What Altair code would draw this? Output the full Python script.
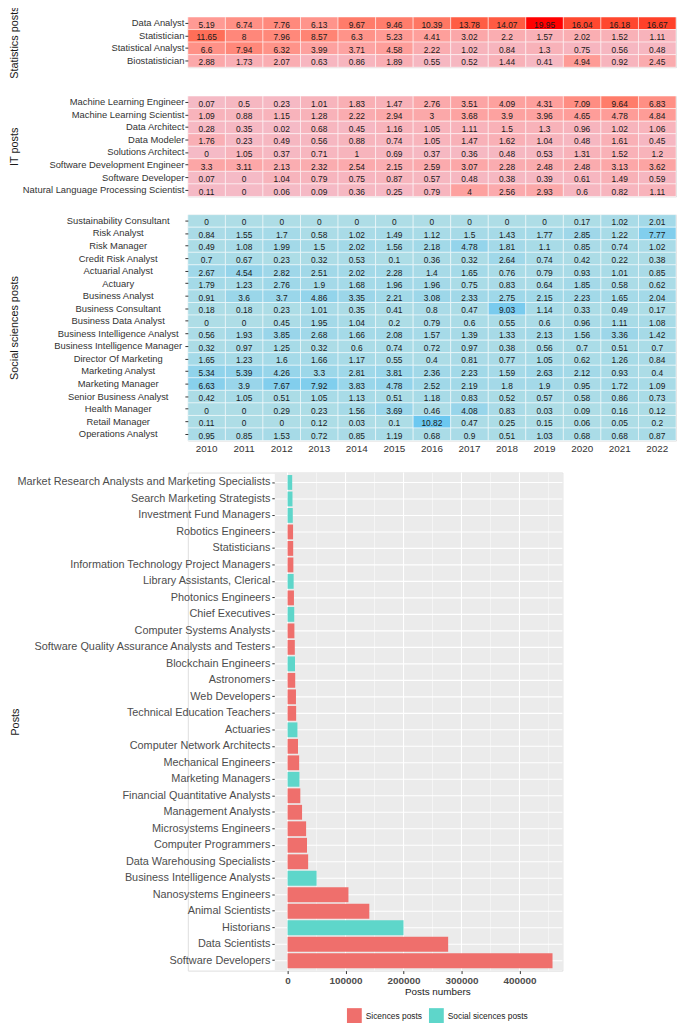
import altair as alt
import pandas as pd

years = [str(y) for y in range(2010, 2023)]

stats_posts = ["Data Analyst", "Statistician", "Statistical Analyst", "Biostatistician"]
data_analyst = [5.19, 6.74, 7.76, 6.13, 9.67, 9.46, 10.39, 13.78, 14.07, 19.95, 16.04, 16.18, 16.67]
statistician = [11.65, 8, 7.96, 8.57, 6.3, 5.23, 4.41, 3.02, 2.2, 1.57, 2.02, 1.52, 1.11]
statistical_analyst = [6.6, 7.94, 6.32, 3.99, 3.71, 4.58, 2.22, 1.02, 0.84, 1.3, 0.75, 0.56, 0.48]
biostatistician = [2.88, 1.73, 2.07, 0.63, 0.86, 1.89, 0.55, 0.52, 1.44, 0.41, 4.94, 0.92, 2.45]
stats_values = [data_analyst, statistician, statistical_analyst, biostatistician]

it_posts = ["Machine Learning Engineer", "Machine Learning Scientist", "Data Architect", "Data Modeler",
            "Solutions Architect", "Software Development Engineer", "Software Developer",
            "Natural Language Processing Scientist"]
ml_engineer = [0.07, 0.5, 0.23, 1.01, 1.83, 1.47, 2.76, 3.51, 4.09, 4.31, 7.09, 9.64, 6.83]
ml_scientist = [1.09, 0.88, 1.15, 1.28, 2.22, 2.94, 3, 3.68, 3.9, 3.96, 4.65, 4.78, 4.84]
data_architect = [0.28, 0.35, 0.02, 0.68, 0.45, 1.16, 1.05, 1.11, 1.5, 1.3, 0.96, 1.02, 1.06]
data_modeler = [1.76, 0.23, 0.49, 0.56, 0.88, 0.74, 1.05, 1.47, 1.62, 1.04, 0.48, 1.61, 0.45]
solutions_architect = [0, 1.05, 0.37, 0.71, 1, 0.69, 0.37, 0.36, 0.48, 0.53, 1.31, 1.52, 1.2]
sw_dev_engineer = [3.3, 3.11, 2.13, 2.32, 2.54, 2.15, 2.59, 3.07, 2.28, 2.48, 2.48, 3.13, 3.62]
sw_developer = [0.07, 0, 1.04, 0.79, 0.75, 0.87, 0.57, 0.48, 0.38, 0.39, 0.61, 1.49, 0.59]
nlp_scientist = [0.11, 0, 0.06, 0.09, 0.36, 0.25, 0.79, 4, 2.56, 2.93, 0.6, 0.82, 1.11]
it_values = [ml_engineer, ml_scientist, data_architect, data_modeler, solutions_architect,
             sw_dev_engineer, sw_developer, nlp_scientist]

social_posts = ["Sustainability Consultant", "Risk Analyst", "Risk Manager", "Credit Risk Analyst",
                "Actuarial Analyst", "Actuary", "Business Analyst", "Business Consultant",
                "Business Data Analyst", "Business Intelligence Analyst", "Business Intelligence Manager",
                "Director Of Marketing", "Marketing Analyst", "Marketing Manager",
                "Senior Business Analyst", "Health Manager", "Retail Manager", "Operations Analyst"]
sustainability = [0, 0, 0, 0, 0, 0, 0, 0, 0, 0, 0.17, 1.02, 2.01]
risk_analyst = [0.84, 1.55, 1.7, 0.58, 1.02, 1.49, 1.12, 1.5, 1.43, 1.77, 2.85, 1.22, 7.77]
risk_manager = [0.49, 1.08, 1.99, 1.5, 2.02, 1.56, 2.18, 4.78, 1.81, 1.1, 0.85, 0.74, 1.02]
credit_risk = [0.7, 0.67, 0.23, 0.32, 0.53, 0.1, 0.36, 0.32, 2.64, 0.74, 0.42, 0.22, 0.38]
actuarial_analyst = [2.67, 4.54, 2.82, 2.51, 2.02, 2.28, 1.4, 1.65, 0.76, 0.79, 0.93, 1.01, 0.85]
actuary = [1.79, 1.23, 2.76, 1.9, 1.68, 1.96, 1.96, 0.75, 0.83, 0.64, 1.85, 0.58, 0.62]
business_analyst = [0.91, 3.6, 3.7, 4.86, 3.35, 2.21, 3.08, 2.33, 2.75, 2.15, 2.23, 1.65, 2.04]
business_consultant = [0.18, 0.18, 0.23, 1.01, 0.35, 0.41, 0.8, 0.47, 9.03, 1.14, 0.33, 0.49, 0.17]
business_data_analyst = [0, 0, 0.45, 1.95, 1.04, 0.2, 0.79, 0.6, 0.55, 0.6, 0.96, 1.11, 1.08]
bi_analyst = [0.56, 1.93, 3.85, 2.68, 1.66, 2.08, 1.57, 1.39, 1.33, 2.13, 1.56, 3.36, 1.42]
bi_manager = [0.32, 0.97, 1.25, 0.32, 0.6, 0.74, 0.72, 0.97, 0.38, 0.56, 0.7, 0.51, 0.7]
director_marketing = [1.65, 1.23, 1.6, 1.66, 1.17, 0.55, 0.4, 0.81, 0.77, 1.05, 0.62, 1.26, 0.84]
marketing_analyst = [5.34, 5.39, 4.26, 3.3, 2.81, 3.81, 2.36, 2.23, 1.59, 2.63, 2.12, 0.93, 0.4]
marketing_manager = [6.63, 3.9, 7.67, 7.92, 3.83, 4.78, 2.52, 2.19, 1.8, 1.9, 0.95, 1.72, 1.09]
senior_ba = [0.42, 1.05, 0.51, 1.05, 1.13, 0.51, 1.18, 0.83, 0.52, 0.57, 0.58, 0.86, 0.73]
health_manager = [0, 0, 0.29, 0.23, 1.56, 3.69, 0.46, 4.08, 0.83, 0.03, 0.09, 0.16, 0.12]
retail_manager = [0.11, 0, 0, 0.12, 0.03, 0.1, 10.82, 0.47, 0.25, 0.15, 0.06, 0.05, 0.2]
operations_analyst = [0.95, 0.85, 1.53, 0.72, 0.85, 1.19, 0.68, 0.9, 0.51, 1.03, 0.68, 0.68, 0.87]
social_values = [sustainability, risk_analyst, risk_manager, credit_risk, actuarial_analyst, actuary,
                 business_analyst, business_consultant, business_data_analyst, bi_analyst, bi_manager,
                 director_marketing, marketing_analyst, marketing_manager, senior_ba, health_manager,
                 retail_manager, operations_analyst]

bar_posts = ["Market Research Analysts and Marketing Specialists", "Search Marketing Strategists",
             "Investment Fund Managers", "Robotics Engineers", "Statisticians",
             "Information Technology Project Managers", "Library Assistants, Clerical",
             "Photonics Engineers", "Chief Executives", "Computer Systems Analysts",
             "Software Quality Assurance Analysts and Testers", "Blockchain Engineers", "Astronomers",
             "Web Developers", "Technical Education Teachers", "Actuaries", "Computer Network Architects",
             "Mechanical Engineers", "Marketing Managers", "Financial Quantitative Analysts",
             "Management Analysts", "Microsystems Engineers", "Computer Programmers",
             "Data Warehousing Specialists", "Business Intelligence Analysts", "Nanosystems Engineers",
             "Animal Scientists", "Historians", "Data Scientists", "Software Developers"]
bar_counts = [8000, 8500, 9000, 9500, 9700, 10000, 10500, 11000, 11500, 11800, 12500, 12800, 13200,
              14500, 14800, 17000, 18000, 20000, 20500, 22000, 25000, 32000, 33500, 35500, 50000,
              105000, 141000, 200000, 277000, 457000]
S, SS = "Sicences posts", "Social sicences posts"
bar_groups = [SS, SS, SS, S, S, S, SS, S, SS, S, S, SS, S, S, S, SS, S, S, SS, S, S, S, S, S, SS,
              S, S, SS, S, S]
group_names = [S, SS]
group_colors = ["#EF6F6C", "#5ED6CA"]
x_ticks = [0, 100000, 200000, 300000, 400000]
minor_breaks = [50000, 150000, 250000, 350000, 450000]
panel_limits = [-22000, 474000]

FONT = "Liberation Sans"
ROW_H = 12.7
HEAT_W = 494
SHIFT = 88          # extra room left of the bar panel (px)
PANEL_W = 291
BAR_H = 504


def fmt(v):
    return f"{v:g}"


def heat_frame(posts, values):
    recs = []
    for p, vals in zip(posts, values):
        for y, v in zip(years, vals):
            recs.append({"post": p, "year": y, "value": v, "label": fmt(v)})
    return pd.DataFrame(recs)


def heatmap(posts, values, title, color_range, color_domain, show_years, centered):
    df = heat_frame(posts, values)
    h = ROW_H * len(posts)
    if show_years:
        xaxis = alt.Axis(title=None, orient="bottom", labelAngle=0, labelFontSize=10,
                         labelColor="#333333", labelFont=FONT, ticks=False, domain=False,
                         labelPadding=3)
    else:
        xaxis = None
    yaxis = alt.Axis(title=title, titleFont=FONT, titleFontSize=11, titlePadding=0,
                     titleFontWeight="normal", titleColor="#1a1a1a",
                     minExtent=170, maxExtent=170,
                     labelAlign="center" if centered else "right",
                     labelPadding=68 if centered else 1, labelFontSize=9.5, labelFont=FONT,
                     labelColor="#333333", labelLimit=400, tickSize=3, tickColor="#333333",
                     domain=False, grid=False)
    base = alt.Chart(df).encode(
        x=alt.X("year:O", sort=years, axis=xaxis, scale=alt.Scale(paddingInner=0, paddingOuter=0)),
        y=alt.Y("post:N", sort=posts, axis=yaxis, scale=alt.Scale(paddingInner=0, paddingOuter=0)),
    )
    rect = base.mark_rect(stroke="white", strokeWidth=0.5).encode(
        color=alt.Color("value:Q", scale=alt.Scale(domain=color_domain, range=color_range,
                                                   interpolate="lab"), legend=None))
    txt = base.mark_text(font=FONT, fontSize=8.5, color="#1a1a1a", dy=1.5).encode(text="label:N")
    return alt.layer(rect, txt).properties(width=HEAT_W, height=h)


pink = ["#F5BAC6", "#FF0000"]
blue = ["#AEDDE6", "#6CC8F0"]
stats_chart = heatmap(stats_posts, stats_values, "Statistics posts", pink, [0, 19.95], False, False)
it_chart = heatmap(it_posts, it_values, "IT posts", pink, [0, 19.95], False, False)
social_chart = heatmap(social_posts, social_values, "Social sciences posts", blue, [0, 10.82], True, True)

# ---- bar chart -------------------------------------------------------------
bar_df = pd.DataFrame({"post": bar_posts, "count": bar_counts, "group": bar_groups,
                       "zero": 0, "lo": panel_limits[0], "hi": panel_limits[1]})
minor_df = pd.DataFrame({"count": minor_breaks})
major_df = pd.DataFrame({"count": x_ticks})
panel_df = pd.DataFrame({"lo": [panel_limits[0]], "hi": [panel_limits[1]]})
span = panel_limits[1] - panel_limits[0]
left_ext = panel_limits[0] - span * SHIFT / PANEL_W
x_scale = alt.Scale(domain=[left_ext, panel_limits[1]], nice=False, zero=False)
y_scale = alt.Scale(paddingInner=0.1, paddingOuter=0.15)

x_axis = alt.Axis(values=x_ticks, format="d", title=None, grid=False,
                  domain=False, tickSize=3, tickColor="#333333", labelFont=FONT,
                  labelFontSize=10, labelFontWeight="bold", labelColor="#4D4D4D", labelPadding=2)
y_axis = alt.Axis(title="Posts", titleFont=FONT, titlePadding=0,
                  titleFontSize=11, titleFontWeight="normal", titleColor="#1a1a1a",
                  offset=-SHIFT, minExtent=257, maxExtent=257,
                  bandPosition=0.5, grid=False,
                  domain=False, tickSize=3, tickColor="#333333", labelFont=FONT,
                  labelFontSize=11, labelColor="#4D4D4D", labelLimit=400,
                  labelPadding=2)

bg = alt.Chart(panel_df).mark_rect(color="#EBEBEB").encode(
    x=alt.X("lo:Q", scale=x_scale, axis=x_axis), x2="hi:Q")
minor = alt.Chart(minor_df).mark_rule(color="white", strokeWidth=0.5).encode(
    x=alt.X("count:Q", scale=x_scale, axis=x_axis))
major = alt.Chart(major_df).mark_rule(color="white", strokeWidth=1.1).encode(
    x=alt.X("count:Q", scale=x_scale, axis=x_axis))
hgrid = alt.Chart(bar_df).mark_rule(color="white", strokeWidth=1.1).encode(
    y=alt.Y("post:N", sort=bar_posts, scale=y_scale, axis=y_axis),
    x=alt.X("lo:Q", scale=x_scale, axis=x_axis), x2="hi:Q")
bars = alt.Chart(bar_df).mark_bar().encode(
    x=alt.X("count:Q", scale=x_scale, axis=x_axis),
    x2="zero:Q",
    y=alt.Y("post:N", sort=bar_posts, scale=y_scale, axis=y_axis),
    color=alt.Color("group:N", scale=alt.Scale(domain=group_names, range=group_colors),
                    legend=alt.Legend(title="Posts numbers", titleOrient="top",
                                      titleAnchor="middle", titleFont=FONT, titleFontSize=10,
                                      titleFontWeight="normal", titleColor="#1a1a1a",
                                      titlePadding=11,
                                      orient="none", legendX=SHIFT + 73,
                                      legendY=BAR_H + 17,
                                      direction="horizontal", symbolType="square",
                                      symbolSize=225, symbolStrokeWidth=0, symbolOpacity=1,
                                      labelFont=FONT, labelFontSize=8.5, labelColor="#1a1a1a",
                                      columnPadding=6, labelOffset=4)),
)
bar_chart = alt.layer(bg, minor, major, hgrid, bars).properties(
    width=PANEL_W + SHIFT, height=BAR_H)

chart = alt.vconcat(stats_chart, it_chart, social_chart, bar_chart, spacing=16).resolve_scale(
    x="independent", y="independent", color="independent"
).properties(
    padding={"left": 0, "top": -9, "right": 0, "bottom": 0}
).configure_view(strokeWidth=0).configure(background="white")

chart.save("out.html", embed_options={"renderer": "svg", "actions": False})
